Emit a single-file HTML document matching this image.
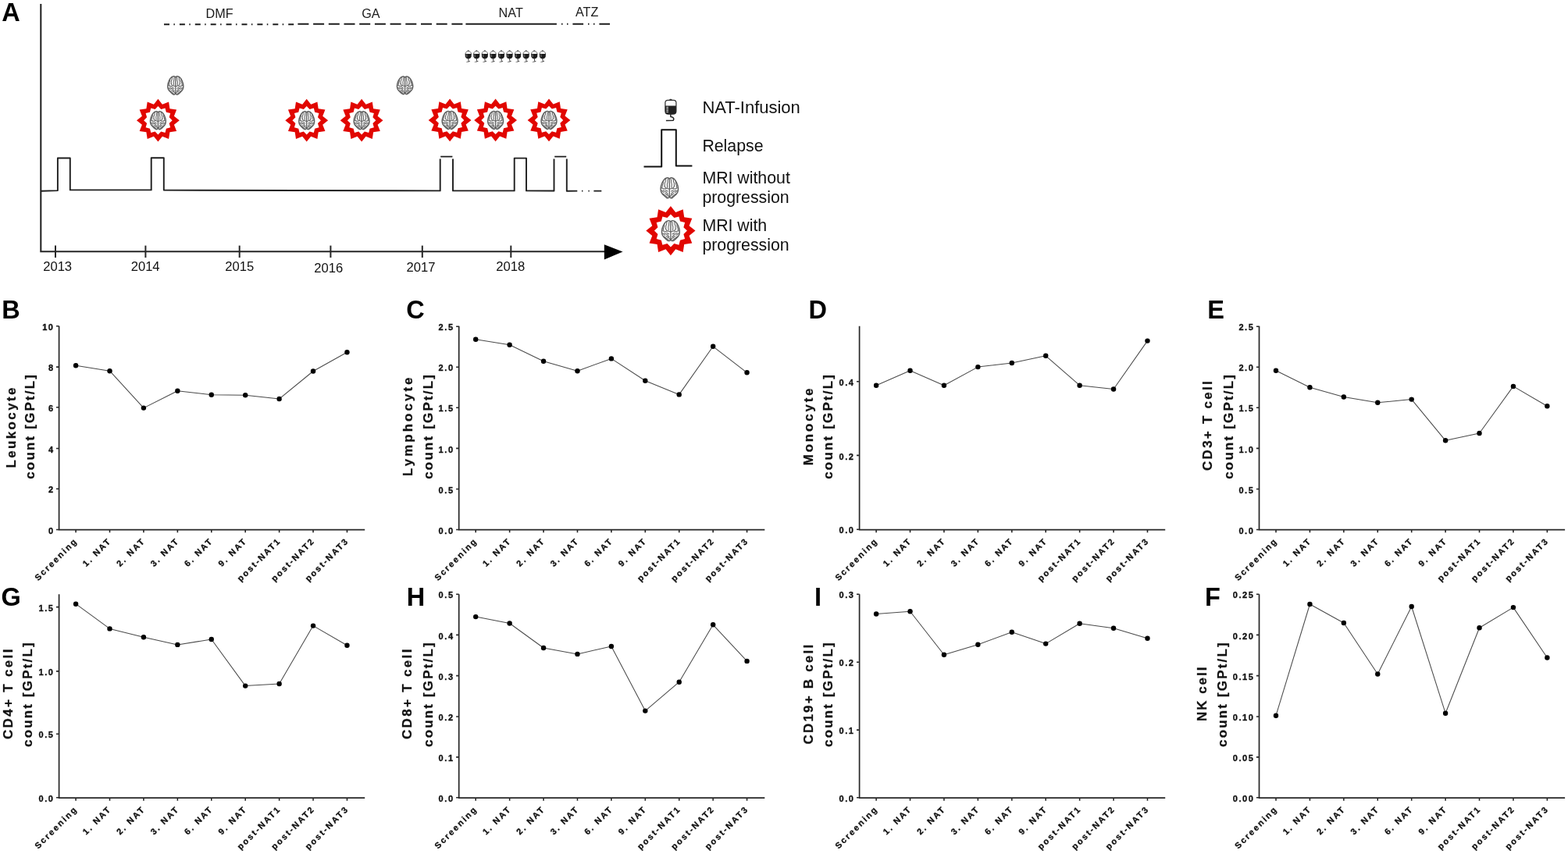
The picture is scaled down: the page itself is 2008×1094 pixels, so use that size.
<!DOCTYPE html><html><head><meta charset="utf-8"><title>Figure</title><style>html,body{margin:0;padding:0;background:#fff;overflow:hidden;}svg{display:block;}</style></head><body>
<svg width="2008" height="1094" viewBox="0 0 2008 1094">
<rect width="2008" height="1094" fill="#fff"/>
<g font-family='"Liberation Sans", Arial, sans-serif'>
<text x="2.2" y="27.2" font-size="32.5" font-weight="bold" fill="#000">A</text>
<path d="M52.3,5 L52.3,322.3 L776,322.3" fill="none" stroke="#262626" stroke-width="2.1"/>
<polygon points="773.8,313.2 797.5,322.6 773.8,332.4" fill="#000"/>
<line x1="71" y1="314.6" x2="71" y2="330" stroke="#262626" stroke-width="2"/>
<line x1="186.4" y1="314.6" x2="186.4" y2="330" stroke="#262626" stroke-width="2"/>
<line x1="306.7" y1="314.6" x2="306.7" y2="330" stroke="#262626" stroke-width="2"/>
<line x1="423.4" y1="314.6" x2="423.4" y2="330" stroke="#262626" stroke-width="2"/>
<line x1="540.8" y1="314.6" x2="540.8" y2="330" stroke="#262626" stroke-width="2"/>
<line x1="654.3" y1="314.6" x2="654.3" y2="330" stroke="#262626" stroke-width="2"/>
<text x="73.65" y="347.3" font-size="16.6" text-anchor="middle" fill="#111">2013</text>
<text x="186.15" y="346.9" font-size="16.6" text-anchor="middle" fill="#111">2014</text>
<text x="306.75" y="347.3" font-size="16.6" text-anchor="middle" fill="#111">2015</text>
<text x="420.75" y="348.7" font-size="16.6" text-anchor="middle" fill="#111">2016</text>
<text x="539" y="347.5" font-size="16.6" text-anchor="middle" fill="#111">2017</text>
<text x="653.7" y="347.3" font-size="16.6" text-anchor="middle" fill="#111">2018</text>
<path d="M52.3,244.8 L73.9,244.1 L73.9,202.5 L89.8,202.5 L89.8,243.4 L193.7,243.4 L193.7,202.2 L209.8,202.2 L209.8,243.6 L563.7,244.4 L563.7,203.6 M580,203.6 L580,244.4 L658.7,244.4 L658.7,202.6 L674,202.6 L674,244.4 L709.5,244.5 L709.5,203.6 M725.8,203.6 L725.8,244.8 L739.3,244.6" fill="none" stroke="#1e1e1e" stroke-width="1.9" stroke-linejoin="round"/>
<path d="M564.2,200.6 L579.4,200.6 M710.2,200.6 L725.2,200.6" stroke="#1e1e1e" stroke-width="1.9"/>
<path d="M745,244.6 h1.4 M753.4,244.6 h1.4 M760.4,244.6 L770.3,244.6" stroke="#1e1e1e" stroke-width="1.9"/>
<line x1="210" y1="31.2" x2="376.5" y2="31.2" stroke="#1e1e1e" stroke-width="2" stroke-dasharray="7 5.4 1.5 6"/>
<line x1="381.4" y1="30.8" x2="593" y2="30.8" stroke="#1e1e1e" stroke-width="2" stroke-dasharray="14 5.7"/>
<line x1="596.4" y1="30.8" x2="712.9" y2="30.8" stroke="#1e1e1e" stroke-width="2"/>
<path d="M719,30.8 h1.5 M726,30.8 h1.5 M733.4,30.8 L747.1,30.8 M753,30.8 h1.5 M760,30.8 h1.5 M767.4,30.8 L781,30.8" stroke="#1e1e1e" stroke-width="2"/>
<text x="263.6" y="22.9" font-size="16.2" fill="#1a1a1a">DMF</text>
<text x="463.2" y="22.9" font-size="16.2" fill="#1a1a1a">GA</text>
<text x="638.6" y="21.9" font-size="16.2" fill="#1a1a1a">NAT</text>
<text x="737" y="21" font-size="16.2" fill="#1a1a1a">ATZ</text>
<path d="M598.7,64.6 L599.7,64.1 L600.7,64.6 L600.7,65.9 L598.7,65.9 Z" fill="#777"/><path d="M596,69.2 C596,66.7 597.6,65.7 599.7,65.7 C601.8,65.7 603.4,66.7 603.4,69.2" fill="#fff" stroke="#5a5a5a" stroke-width="0.95"/><path d="M595.6,68.9 L603.8,68.9 L603.6,72.3 C603.3,74.4 601.9,75.3 599.7,75.3 C597.5,75.3 596.1,74.4 595.8,72.3 Z" fill="#1c1c1c"/><path d="M596.8,70.6 h1.6 M596.8,72.3 h1.6" stroke="#bbb" stroke-width="0.7"/><path d="M599.7,75 L600,77.8" stroke="#333" stroke-width="1"/><path d="M596.9,79.5 C598.7,78.6 600.7,77.7 601.8,78.1 C602.3,78.6 601.2,79.7 596.9,79.7 Z" fill="#3a3a3a"/>
<path d="M609.27,64.6 L610.27,64.1 L611.27,64.6 L611.27,65.9 L609.27,65.9 Z" fill="#777"/><path d="M606.57,69.2 C606.57,66.7 608.17,65.7 610.27,65.7 C612.37,65.7 613.97,66.7 613.97,69.2" fill="#fff" stroke="#5a5a5a" stroke-width="0.95"/><path d="M606.17,68.9 L614.37,68.9 L614.17,72.3 C613.87,74.4 612.47,75.3 610.27,75.3 C608.07,75.3 606.67,74.4 606.37,72.3 Z" fill="#1c1c1c"/><path d="M607.37,70.6 h1.6 M607.37,72.3 h1.6" stroke="#bbb" stroke-width="0.7"/><path d="M610.27,75 L610.57,77.8" stroke="#333" stroke-width="1"/><path d="M607.47,79.5 C609.27,78.6 611.27,77.7 612.37,78.1 C612.87,78.6 611.77,79.7 607.47,79.7 Z" fill="#3a3a3a"/>
<path d="M619.84,64.6 L620.84,64.1 L621.84,64.6 L621.84,65.9 L619.84,65.9 Z" fill="#777"/><path d="M617.14,69.2 C617.14,66.7 618.74,65.7 620.84,65.7 C622.94,65.7 624.54,66.7 624.54,69.2" fill="#fff" stroke="#5a5a5a" stroke-width="0.95"/><path d="M616.74,68.9 L624.94,68.9 L624.74,72.3 C624.44,74.4 623.04,75.3 620.84,75.3 C618.64,75.3 617.24,74.4 616.94,72.3 Z" fill="#1c1c1c"/><path d="M617.94,70.6 h1.6 M617.94,72.3 h1.6" stroke="#bbb" stroke-width="0.7"/><path d="M620.84,75 L621.14,77.8" stroke="#333" stroke-width="1"/><path d="M618.04,79.5 C619.84,78.6 621.84,77.7 622.94,78.1 C623.44,78.6 622.34,79.7 618.04,79.7 Z" fill="#3a3a3a"/>
<path d="M630.41,64.6 L631.41,64.1 L632.41,64.6 L632.41,65.9 L630.41,65.9 Z" fill="#777"/><path d="M627.71,69.2 C627.71,66.7 629.31,65.7 631.41,65.7 C633.51,65.7 635.11,66.7 635.11,69.2" fill="#fff" stroke="#5a5a5a" stroke-width="0.95"/><path d="M627.31,68.9 L635.51,68.9 L635.31,72.3 C635.01,74.4 633.61,75.3 631.41,75.3 C629.21,75.3 627.81,74.4 627.51,72.3 Z" fill="#1c1c1c"/><path d="M628.51,70.6 h1.6 M628.51,72.3 h1.6" stroke="#bbb" stroke-width="0.7"/><path d="M631.41,75 L631.71,77.8" stroke="#333" stroke-width="1"/><path d="M628.61,79.5 C630.41,78.6 632.41,77.7 633.51,78.1 C634.01,78.6 632.91,79.7 628.61,79.7 Z" fill="#3a3a3a"/>
<path d="M640.98,64.6 L641.98,64.1 L642.98,64.6 L642.98,65.9 L640.98,65.9 Z" fill="#777"/><path d="M638.28,69.2 C638.28,66.7 639.88,65.7 641.98,65.7 C644.08,65.7 645.68,66.7 645.68,69.2" fill="#fff" stroke="#5a5a5a" stroke-width="0.95"/><path d="M637.88,68.9 L646.08,68.9 L645.88,72.3 C645.58,74.4 644.18,75.3 641.98,75.3 C639.78,75.3 638.38,74.4 638.08,72.3 Z" fill="#1c1c1c"/><path d="M639.08,70.6 h1.6 M639.08,72.3 h1.6" stroke="#bbb" stroke-width="0.7"/><path d="M641.98,75 L642.28,77.8" stroke="#333" stroke-width="1"/><path d="M639.18,79.5 C640.98,78.6 642.98,77.7 644.08,78.1 C644.58,78.6 643.48,79.7 639.18,79.7 Z" fill="#3a3a3a"/>
<path d="M651.55,64.6 L652.55,64.1 L653.55,64.6 L653.55,65.9 L651.55,65.9 Z" fill="#777"/><path d="M648.85,69.2 C648.85,66.7 650.45,65.7 652.55,65.7 C654.65,65.7 656.25,66.7 656.25,69.2" fill="#fff" stroke="#5a5a5a" stroke-width="0.95"/><path d="M648.45,68.9 L656.65,68.9 L656.45,72.3 C656.15,74.4 654.75,75.3 652.55,75.3 C650.35,75.3 648.95,74.4 648.65,72.3 Z" fill="#1c1c1c"/><path d="M649.65,70.6 h1.6 M649.65,72.3 h1.6" stroke="#bbb" stroke-width="0.7"/><path d="M652.55,75 L652.85,77.8" stroke="#333" stroke-width="1"/><path d="M649.75,79.5 C651.55,78.6 653.55,77.7 654.65,78.1 C655.15,78.6 654.05,79.7 649.75,79.7 Z" fill="#3a3a3a"/>
<path d="M662.12,64.6 L663.12,64.1 L664.12,64.6 L664.12,65.9 L662.12,65.9 Z" fill="#777"/><path d="M659.42,69.2 C659.42,66.7 661.02,65.7 663.12,65.7 C665.22,65.7 666.82,66.7 666.82,69.2" fill="#fff" stroke="#5a5a5a" stroke-width="0.95"/><path d="M659.02,68.9 L667.22,68.9 L667.02,72.3 C666.72,74.4 665.32,75.3 663.12,75.3 C660.92,75.3 659.52,74.4 659.22,72.3 Z" fill="#1c1c1c"/><path d="M660.22,70.6 h1.6 M660.22,72.3 h1.6" stroke="#bbb" stroke-width="0.7"/><path d="M663.12,75 L663.42,77.8" stroke="#333" stroke-width="1"/><path d="M660.32,79.5 C662.12,78.6 664.12,77.7 665.22,78.1 C665.72,78.6 664.62,79.7 660.32,79.7 Z" fill="#3a3a3a"/>
<path d="M672.69,64.6 L673.69,64.1 L674.69,64.6 L674.69,65.9 L672.69,65.9 Z" fill="#777"/><path d="M669.99,69.2 C669.99,66.7 671.59,65.7 673.69,65.7 C675.79,65.7 677.39,66.7 677.39,69.2" fill="#fff" stroke="#5a5a5a" stroke-width="0.95"/><path d="M669.59,68.9 L677.79,68.9 L677.59,72.3 C677.29,74.4 675.89,75.3 673.69,75.3 C671.49,75.3 670.09,74.4 669.79,72.3 Z" fill="#1c1c1c"/><path d="M670.79,70.6 h1.6 M670.79,72.3 h1.6" stroke="#bbb" stroke-width="0.7"/><path d="M673.69,75 L673.99,77.8" stroke="#333" stroke-width="1"/><path d="M670.89,79.5 C672.69,78.6 674.69,77.7 675.79,78.1 C676.29,78.6 675.19,79.7 670.89,79.7 Z" fill="#3a3a3a"/>
<path d="M683.26,64.6 L684.26,64.1 L685.26,64.6 L685.26,65.9 L683.26,65.9 Z" fill="#777"/><path d="M680.56,69.2 C680.56,66.7 682.16,65.7 684.26,65.7 C686.36,65.7 687.96,66.7 687.96,69.2" fill="#fff" stroke="#5a5a5a" stroke-width="0.95"/><path d="M680.16,68.9 L688.36,68.9 L688.16,72.3 C687.86,74.4 686.46,75.3 684.26,75.3 C682.06,75.3 680.66,74.4 680.36,72.3 Z" fill="#1c1c1c"/><path d="M681.36,70.6 h1.6 M681.36,72.3 h1.6" stroke="#bbb" stroke-width="0.7"/><path d="M684.26,75 L684.56,77.8" stroke="#333" stroke-width="1"/><path d="M681.46,79.5 C683.26,78.6 685.26,77.7 686.36,78.1 C686.86,78.6 685.76,79.7 681.46,79.7 Z" fill="#3a3a3a"/>
<path d="M693.83,64.6 L694.83,64.1 L695.83,64.6 L695.83,65.9 L693.83,65.9 Z" fill="#777"/><path d="M691.13,69.2 C691.13,66.7 692.73,65.7 694.83,65.7 C696.93,65.7 698.53,66.7 698.53,69.2" fill="#fff" stroke="#5a5a5a" stroke-width="0.95"/><path d="M690.73,68.9 L698.93,68.9 L698.73,72.3 C698.43,74.4 697.03,75.3 694.83,75.3 C692.63,75.3 691.23,74.4 690.93,72.3 Z" fill="#1c1c1c"/><path d="M691.93,70.6 h1.6 M691.93,72.3 h1.6" stroke="#bbb" stroke-width="0.7"/><path d="M694.83,75 L695.13,77.8" stroke="#333" stroke-width="1"/><path d="M692.03,79.5 C693.83,78.6 695.83,77.7 696.93,78.1 C697.43,78.6 696.33,79.7 692.03,79.7 Z" fill="#3a3a3a"/>
<g transform="translate(224.8,109.4) scale(0.2020,0.2061) translate(-50,-57.5)" fill="none" stroke="#5e5e5e" stroke-linejoin="round" stroke-linecap="round"><path d="M49,6 C45,1 41,0.3 37,0.8 C29,2 21,8 16,15 C10,24 5,35 2.5,45 C0.5,54 -0.3,60 0.2,66 C0.8,73 2,78 4,82 C7,88 11,93 16,97 C22,103 27,108 33,112 C37,114.5 42,115 45,113 C47.5,111.5 49,108 50,103 M51,6 C55,1 59,0.3 63,0.8 C71,2 79,8 84,15 C90,24 95,35 97.5,45 C99.5,54 100.3,60 99.8,66 C99.2,73 98,78 96,82 C93,88 89,93 84,97 C78,103 73,108 67,112 C63,114.5 58,115 55,113 C52.5,111.5 51,108 50,103" fill="#fafafa" stroke-width="7.11"/><path d="M50,6 L50,103" stroke-width="6.37"/><path d="M42,8 C37,16 43,24 38,32 C34,40 41,48 37,56 M30,6 C24,12 31,19 25,26 C19,33 27,40 21,47 M16,18 C11,26 18,32 11,40 C7,46 12,52 6,58 M9,60 C15,58 18,64 24,63 C29,62 31,58 37,59 M22,45 C26,50 24,55 30,58 M40,62 C45,60 47,64 49,62 M5,72 C10,74 12,80 18,82 M14,70 C20,72 24,78 30,80 C35,82 36,88 41,92 M28,70 C33,71 36,75 40,76 M12,90 C18,92 22,98 28,101 C32,103 34,107 38,110 M25,88 C30,90 33,95 38,97 C42,99 44,103 47,106 M58,8 C63,16 57,24 62,32 C66,40 59,48 63,56 M70,6 C76,12 69,19 75,26 C81,33 73,40 79,47 M84,18 C89,26 82,32 89,40 C93,46 88,52 94,58 M91,60 C85,58 82,64 76,63 C71,62 69,58 63,59 M78,45 C74,50 76,55 70,58 M60,62 C55,60 53,64 51,62 M95,72 C90,74 88,80 82,82 M86,70 C80,72 76,78 70,80 C65,82 64,88 59,92 M72,70 C67,71 64,75 60,76 M88,90 C82,92 78,98 72,101 C68,103 66,107 62,110 M75,88 C70,90 67,95 62,97 C58,99 56,103 53,106" stroke="#616161" stroke-width="5.15"/></g>
<g transform="translate(518.6,109.3) scale(0.2030,0.2000) translate(-50,-57.5)" fill="none" stroke="#5e5e5e" stroke-linejoin="round" stroke-linecap="round"><path d="M49,6 C45,1 41,0.3 37,0.8 C29,2 21,8 16,15 C10,24 5,35 2.5,45 C0.5,54 -0.3,60 0.2,66 C0.8,73 2,78 4,82 C7,88 11,93 16,97 C22,103 27,108 33,112 C37,114.5 42,115 45,113 C47.5,111.5 49,108 50,103 M51,6 C55,1 59,0.3 63,0.8 C71,2 79,8 84,15 C90,24 95,35 97.5,45 C99.5,54 100.3,60 99.8,66 C99.2,73 98,78 96,82 C93,88 89,93 84,97 C78,103 73,108 67,112 C63,114.5 58,115 55,113 C52.5,111.5 51,108 50,103" fill="#fafafa" stroke-width="7.2"/><path d="M50,6 L50,103" stroke-width="6.45"/><path d="M42,8 C37,16 43,24 38,32 C34,40 41,48 37,56 M30,6 C24,12 31,19 25,26 C19,33 27,40 21,47 M16,18 C11,26 18,32 11,40 C7,46 12,52 6,58 M9,60 C15,58 18,64 24,63 C29,62 31,58 37,59 M22,45 C26,50 24,55 30,58 M40,62 C45,60 47,64 49,62 M5,72 C10,74 12,80 18,82 M14,70 C20,72 24,78 30,80 C35,82 36,88 41,92 M28,70 C33,71 36,75 40,76 M12,90 C18,92 22,98 28,101 C32,103 34,107 38,110 M25,88 C30,90 33,95 38,97 C42,99 44,103 47,106 M58,8 C63,16 57,24 62,32 C66,40 59,48 63,56 M70,6 C76,12 69,19 75,26 C81,33 73,40 79,47 M84,18 C89,26 82,32 89,40 C93,46 88,52 94,58 M91,60 C85,58 82,64 76,63 C71,62 69,58 63,59 M78,45 C74,50 76,55 70,58 M60,62 C55,60 53,64 51,62 M95,72 C90,74 88,80 82,82 M86,70 C80,72 76,78 70,80 C65,82 64,88 59,92 M72,70 C67,71 64,75 60,76 M88,90 C82,92 78,98 72,101 C68,103 66,107 62,110 M75,88 C70,90 67,95 62,97 C58,99 56,103 53,106" stroke="#616161" stroke-width="5.21"/></g>
<polygon points="202.4,126.8 207.9,133.69 216.1,130.47 217.42,139.18 226.13,140.5 222.91,148.7 229.8,154.2 222.91,159.7 226.13,167.9 217.42,169.22 216.1,177.93 207.9,174.71 202.4,181.6 196.9,174.71 188.7,177.93 187.38,169.22 178.67,167.9 181.89,159.7 175,154.2 181.89,148.7 178.67,140.5 187.38,139.18 188.7,130.47 196.9,133.69" fill="#e10600"/><polygon points="202.4,135.98 206.23,139.91 211.51,138.42 212.86,143.74 218.18,145.09 216.69,150.37 220.62,154.2 216.69,158.03 218.18,163.31 212.86,164.66 211.51,169.98 206.23,168.49 202.4,172.42 198.57,168.49 193.29,169.98 191.94,164.66 186.62,163.31 188.11,158.03 184.18,154.2 188.11,150.37 186.62,145.09 191.94,143.74 193.29,138.42 198.57,139.91" fill="#fff"/><g transform="translate(202.4,154.2) scale(0.1990,0.2026) translate(-50,-57.5)" fill="none" stroke="#5e5e5e" stroke-linejoin="round" stroke-linecap="round"><path d="M49,6 C45,1 41,0.3 37,0.8 C29,2 21,8 16,15 C10,24 5,35 2.5,45 C0.5,54 -0.3,60 0.2,66 C0.8,73 2,78 4,82 C7,88 11,93 16,97 C22,103 27,108 33,112 C37,114.5 42,115 45,113 C47.5,111.5 49,108 50,103 M51,6 C55,1 59,0.3 63,0.8 C71,2 79,8 84,15 C90,24 95,35 97.5,45 C99.5,54 100.3,60 99.8,66 C99.2,73 98,78 96,82 C93,88 89,93 84,97 C78,103 73,108 67,112 C63,114.5 58,115 55,113 C52.5,111.5 51,108 50,103" fill="#fafafa" stroke-width="7.22"/><path d="M50,6 L50,103" stroke-width="6.47"/><path d="M42,8 C37,16 43,24 38,32 C34,40 41,48 37,56 M30,6 C24,12 31,19 25,26 C19,33 27,40 21,47 M16,18 C11,26 18,32 11,40 C7,46 12,52 6,58 M9,60 C15,58 18,64 24,63 C29,62 31,58 37,59 M22,45 C26,50 24,55 30,58 M40,62 C45,60 47,64 49,62 M5,72 C10,74 12,80 18,82 M14,70 C20,72 24,78 30,80 C35,82 36,88 41,92 M28,70 C33,71 36,75 40,76 M12,90 C18,92 22,98 28,101 C32,103 34,107 38,110 M25,88 C30,90 33,95 38,97 C42,99 44,103 47,106 M58,8 C63,16 57,24 62,32 C66,40 59,48 63,56 M70,6 C76,12 69,19 75,26 C81,33 73,40 79,47 M84,18 C89,26 82,32 89,40 C93,46 88,52 94,58 M91,60 C85,58 82,64 76,63 C71,62 69,58 63,59 M78,45 C74,50 76,55 70,58 M60,62 C55,60 53,64 51,62 M95,72 C90,74 88,80 82,82 M86,70 C80,72 76,78 70,80 C65,82 64,88 59,92 M72,70 C67,71 64,75 60,76 M88,90 C82,92 78,98 72,101 C68,103 66,107 62,110 M75,88 C70,90 67,95 62,97 C58,99 56,103 53,106" stroke="#616161" stroke-width="5.23"/></g>
<polygon points="392.7,126.8 398.2,133.69 406.4,130.47 407.72,139.18 416.43,140.5 413.21,148.7 420.1,154.2 413.21,159.7 416.43,167.9 407.72,169.22 406.4,177.93 398.2,174.71 392.7,181.6 387.2,174.71 379,177.93 377.68,169.22 368.97,167.9 372.19,159.7 365.3,154.2 372.19,148.7 368.97,140.5 377.68,139.18 379,130.47 387.2,133.69" fill="#e10600"/><polygon points="392.7,135.98 396.53,139.91 401.81,138.42 403.16,143.74 408.48,145.09 406.99,150.37 410.92,154.2 406.99,158.03 408.48,163.31 403.16,164.66 401.81,169.98 396.53,168.49 392.7,172.42 388.87,168.49 383.59,169.98 382.24,164.66 376.92,163.31 378.41,158.03 374.48,154.2 378.41,150.37 376.92,145.09 382.24,143.74 383.59,138.42 388.87,139.91" fill="#fff"/><g transform="translate(392.7,154.2) scale(0.1990,0.2026) translate(-50,-57.5)" fill="none" stroke="#5e5e5e" stroke-linejoin="round" stroke-linecap="round"><path d="M49,6 C45,1 41,0.3 37,0.8 C29,2 21,8 16,15 C10,24 5,35 2.5,45 C0.5,54 -0.3,60 0.2,66 C0.8,73 2,78 4,82 C7,88 11,93 16,97 C22,103 27,108 33,112 C37,114.5 42,115 45,113 C47.5,111.5 49,108 50,103 M51,6 C55,1 59,0.3 63,0.8 C71,2 79,8 84,15 C90,24 95,35 97.5,45 C99.5,54 100.3,60 99.8,66 C99.2,73 98,78 96,82 C93,88 89,93 84,97 C78,103 73,108 67,112 C63,114.5 58,115 55,113 C52.5,111.5 51,108 50,103" fill="#fafafa" stroke-width="7.22"/><path d="M50,6 L50,103" stroke-width="6.47"/><path d="M42,8 C37,16 43,24 38,32 C34,40 41,48 37,56 M30,6 C24,12 31,19 25,26 C19,33 27,40 21,47 M16,18 C11,26 18,32 11,40 C7,46 12,52 6,58 M9,60 C15,58 18,64 24,63 C29,62 31,58 37,59 M22,45 C26,50 24,55 30,58 M40,62 C45,60 47,64 49,62 M5,72 C10,74 12,80 18,82 M14,70 C20,72 24,78 30,80 C35,82 36,88 41,92 M28,70 C33,71 36,75 40,76 M12,90 C18,92 22,98 28,101 C32,103 34,107 38,110 M25,88 C30,90 33,95 38,97 C42,99 44,103 47,106 M58,8 C63,16 57,24 62,32 C66,40 59,48 63,56 M70,6 C76,12 69,19 75,26 C81,33 73,40 79,47 M84,18 C89,26 82,32 89,40 C93,46 88,52 94,58 M91,60 C85,58 82,64 76,63 C71,62 69,58 63,59 M78,45 C74,50 76,55 70,58 M60,62 C55,60 53,64 51,62 M95,72 C90,74 88,80 82,82 M86,70 C80,72 76,78 70,80 C65,82 64,88 59,92 M72,70 C67,71 64,75 60,76 M88,90 C82,92 78,98 72,101 C68,103 66,107 62,110 M75,88 C70,90 67,95 62,97 C58,99 56,103 53,106" stroke="#616161" stroke-width="5.23"/></g>
<polygon points="463.1,126.8 468.6,133.69 476.8,130.47 478.12,139.18 486.83,140.5 483.61,148.7 490.5,154.2 483.61,159.7 486.83,167.9 478.12,169.22 476.8,177.93 468.6,174.71 463.1,181.6 457.6,174.71 449.4,177.93 448.08,169.22 439.37,167.9 442.59,159.7 435.7,154.2 442.59,148.7 439.37,140.5 448.08,139.18 449.4,130.47 457.6,133.69" fill="#e10600"/><polygon points="463.1,135.98 466.93,139.91 472.21,138.42 473.56,143.74 478.88,145.09 477.39,150.37 481.32,154.2 477.39,158.03 478.88,163.31 473.56,164.66 472.21,169.98 466.93,168.49 463.1,172.42 459.27,168.49 453.99,169.98 452.64,164.66 447.32,163.31 448.81,158.03 444.88,154.2 448.81,150.37 447.32,145.09 452.64,143.74 453.99,138.42 459.27,139.91" fill="#fff"/><g transform="translate(463.1,154.2) scale(0.1990,0.2026) translate(-50,-57.5)" fill="none" stroke="#5e5e5e" stroke-linejoin="round" stroke-linecap="round"><path d="M49,6 C45,1 41,0.3 37,0.8 C29,2 21,8 16,15 C10,24 5,35 2.5,45 C0.5,54 -0.3,60 0.2,66 C0.8,73 2,78 4,82 C7,88 11,93 16,97 C22,103 27,108 33,112 C37,114.5 42,115 45,113 C47.5,111.5 49,108 50,103 M51,6 C55,1 59,0.3 63,0.8 C71,2 79,8 84,15 C90,24 95,35 97.5,45 C99.5,54 100.3,60 99.8,66 C99.2,73 98,78 96,82 C93,88 89,93 84,97 C78,103 73,108 67,112 C63,114.5 58,115 55,113 C52.5,111.5 51,108 50,103" fill="#fafafa" stroke-width="7.22"/><path d="M50,6 L50,103" stroke-width="6.47"/><path d="M42,8 C37,16 43,24 38,32 C34,40 41,48 37,56 M30,6 C24,12 31,19 25,26 C19,33 27,40 21,47 M16,18 C11,26 18,32 11,40 C7,46 12,52 6,58 M9,60 C15,58 18,64 24,63 C29,62 31,58 37,59 M22,45 C26,50 24,55 30,58 M40,62 C45,60 47,64 49,62 M5,72 C10,74 12,80 18,82 M14,70 C20,72 24,78 30,80 C35,82 36,88 41,92 M28,70 C33,71 36,75 40,76 M12,90 C18,92 22,98 28,101 C32,103 34,107 38,110 M25,88 C30,90 33,95 38,97 C42,99 44,103 47,106 M58,8 C63,16 57,24 62,32 C66,40 59,48 63,56 M70,6 C76,12 69,19 75,26 C81,33 73,40 79,47 M84,18 C89,26 82,32 89,40 C93,46 88,52 94,58 M91,60 C85,58 82,64 76,63 C71,62 69,58 63,59 M78,45 C74,50 76,55 70,58 M60,62 C55,60 53,64 51,62 M95,72 C90,74 88,80 82,82 M86,70 C80,72 76,78 70,80 C65,82 64,88 59,92 M72,70 C67,71 64,75 60,76 M88,90 C82,92 78,98 72,101 C68,103 66,107 62,110 M75,88 C70,90 67,95 62,97 C58,99 56,103 53,106" stroke="#616161" stroke-width="5.23"/></g>
<polygon points="576.1,126.5 581.6,133.39 589.8,130.17 591.12,138.88 599.83,140.2 596.61,148.4 603.5,153.9 596.61,159.4 599.83,167.6 591.12,168.92 589.8,177.63 581.6,174.41 576.1,181.3 570.6,174.41 562.4,177.63 561.08,168.92 552.37,167.6 555.59,159.4 548.7,153.9 555.59,148.4 552.37,140.2 561.08,138.88 562.4,130.17 570.6,133.39" fill="#e10600"/><polygon points="576.1,135.68 579.93,139.61 585.21,138.12 586.56,143.44 591.88,144.79 590.39,150.07 594.32,153.9 590.39,157.73 591.88,163.01 586.56,164.36 585.21,169.68 579.93,168.19 576.1,172.12 572.27,168.19 566.99,169.68 565.64,164.36 560.32,163.01 561.81,157.73 557.88,153.9 561.81,150.07 560.32,144.79 565.64,143.44 566.99,138.12 572.27,139.61" fill="#fff"/><g transform="translate(576.1,153.9) scale(0.1990,0.2026) translate(-50,-57.5)" fill="none" stroke="#5e5e5e" stroke-linejoin="round" stroke-linecap="round"><path d="M49,6 C45,1 41,0.3 37,0.8 C29,2 21,8 16,15 C10,24 5,35 2.5,45 C0.5,54 -0.3,60 0.2,66 C0.8,73 2,78 4,82 C7,88 11,93 16,97 C22,103 27,108 33,112 C37,114.5 42,115 45,113 C47.5,111.5 49,108 50,103 M51,6 C55,1 59,0.3 63,0.8 C71,2 79,8 84,15 C90,24 95,35 97.5,45 C99.5,54 100.3,60 99.8,66 C99.2,73 98,78 96,82 C93,88 89,93 84,97 C78,103 73,108 67,112 C63,114.5 58,115 55,113 C52.5,111.5 51,108 50,103" fill="#fafafa" stroke-width="7.22"/><path d="M50,6 L50,103" stroke-width="6.47"/><path d="M42,8 C37,16 43,24 38,32 C34,40 41,48 37,56 M30,6 C24,12 31,19 25,26 C19,33 27,40 21,47 M16,18 C11,26 18,32 11,40 C7,46 12,52 6,58 M9,60 C15,58 18,64 24,63 C29,62 31,58 37,59 M22,45 C26,50 24,55 30,58 M40,62 C45,60 47,64 49,62 M5,72 C10,74 12,80 18,82 M14,70 C20,72 24,78 30,80 C35,82 36,88 41,92 M28,70 C33,71 36,75 40,76 M12,90 C18,92 22,98 28,101 C32,103 34,107 38,110 M25,88 C30,90 33,95 38,97 C42,99 44,103 47,106 M58,8 C63,16 57,24 62,32 C66,40 59,48 63,56 M70,6 C76,12 69,19 75,26 C81,33 73,40 79,47 M84,18 C89,26 82,32 89,40 C93,46 88,52 94,58 M91,60 C85,58 82,64 76,63 C71,62 69,58 63,59 M78,45 C74,50 76,55 70,58 M60,62 C55,60 53,64 51,62 M95,72 C90,74 88,80 82,82 M86,70 C80,72 76,78 70,80 C65,82 64,88 59,92 M72,70 C67,71 64,75 60,76 M88,90 C82,92 78,98 72,101 C68,103 66,107 62,110 M75,88 C70,90 67,95 62,97 C58,99 56,103 53,106" stroke="#616161" stroke-width="5.23"/></g>
<polygon points="634.6,126.5 640.1,133.39 648.3,130.17 649.62,138.88 658.33,140.2 655.11,148.4 662,153.9 655.11,159.4 658.33,167.6 649.62,168.92 648.3,177.63 640.1,174.41 634.6,181.3 629.1,174.41 620.9,177.63 619.58,168.92 610.87,167.6 614.09,159.4 607.2,153.9 614.09,148.4 610.87,140.2 619.58,138.88 620.9,130.17 629.1,133.39" fill="#e10600"/><polygon points="634.6,135.68 638.43,139.61 643.71,138.12 645.06,143.44 650.38,144.79 648.89,150.07 652.82,153.9 648.89,157.73 650.38,163.01 645.06,164.36 643.71,169.68 638.43,168.19 634.6,172.12 630.77,168.19 625.49,169.68 624.14,164.36 618.82,163.01 620.31,157.73 616.38,153.9 620.31,150.07 618.82,144.79 624.14,143.44 625.49,138.12 630.77,139.61" fill="#fff"/><g transform="translate(634.6,153.9) scale(0.1990,0.2026) translate(-50,-57.5)" fill="none" stroke="#5e5e5e" stroke-linejoin="round" stroke-linecap="round"><path d="M49,6 C45,1 41,0.3 37,0.8 C29,2 21,8 16,15 C10,24 5,35 2.5,45 C0.5,54 -0.3,60 0.2,66 C0.8,73 2,78 4,82 C7,88 11,93 16,97 C22,103 27,108 33,112 C37,114.5 42,115 45,113 C47.5,111.5 49,108 50,103 M51,6 C55,1 59,0.3 63,0.8 C71,2 79,8 84,15 C90,24 95,35 97.5,45 C99.5,54 100.3,60 99.8,66 C99.2,73 98,78 96,82 C93,88 89,93 84,97 C78,103 73,108 67,112 C63,114.5 58,115 55,113 C52.5,111.5 51,108 50,103" fill="#fafafa" stroke-width="7.22"/><path d="M50,6 L50,103" stroke-width="6.47"/><path d="M42,8 C37,16 43,24 38,32 C34,40 41,48 37,56 M30,6 C24,12 31,19 25,26 C19,33 27,40 21,47 M16,18 C11,26 18,32 11,40 C7,46 12,52 6,58 M9,60 C15,58 18,64 24,63 C29,62 31,58 37,59 M22,45 C26,50 24,55 30,58 M40,62 C45,60 47,64 49,62 M5,72 C10,74 12,80 18,82 M14,70 C20,72 24,78 30,80 C35,82 36,88 41,92 M28,70 C33,71 36,75 40,76 M12,90 C18,92 22,98 28,101 C32,103 34,107 38,110 M25,88 C30,90 33,95 38,97 C42,99 44,103 47,106 M58,8 C63,16 57,24 62,32 C66,40 59,48 63,56 M70,6 C76,12 69,19 75,26 C81,33 73,40 79,47 M84,18 C89,26 82,32 89,40 C93,46 88,52 94,58 M91,60 C85,58 82,64 76,63 C71,62 69,58 63,59 M78,45 C74,50 76,55 70,58 M60,62 C55,60 53,64 51,62 M95,72 C90,74 88,80 82,82 M86,70 C80,72 76,78 70,80 C65,82 64,88 59,92 M72,70 C67,71 64,75 60,76 M88,90 C82,92 78,98 72,101 C68,103 66,107 62,110 M75,88 C70,90 67,95 62,97 C58,99 56,103 53,106" stroke="#616161" stroke-width="5.23"/></g>
<polygon points="703,126.5 708.5,133.39 716.7,130.17 718.02,138.88 726.73,140.2 723.51,148.4 730.4,153.9 723.51,159.4 726.73,167.6 718.02,168.92 716.7,177.63 708.5,174.41 703,181.3 697.5,174.41 689.3,177.63 687.98,168.92 679.27,167.6 682.49,159.4 675.6,153.9 682.49,148.4 679.27,140.2 687.98,138.88 689.3,130.17 697.5,133.39" fill="#e10600"/><polygon points="703,135.68 706.83,139.61 712.11,138.12 713.46,143.44 718.78,144.79 717.29,150.07 721.22,153.9 717.29,157.73 718.78,163.01 713.46,164.36 712.11,169.68 706.83,168.19 703,172.12 699.17,168.19 693.89,169.68 692.54,164.36 687.22,163.01 688.71,157.73 684.78,153.9 688.71,150.07 687.22,144.79 692.54,143.44 693.89,138.12 699.17,139.61" fill="#fff"/><g transform="translate(703,153.9) scale(0.1990,0.2026) translate(-50,-57.5)" fill="none" stroke="#5e5e5e" stroke-linejoin="round" stroke-linecap="round"><path d="M49,6 C45,1 41,0.3 37,0.8 C29,2 21,8 16,15 C10,24 5,35 2.5,45 C0.5,54 -0.3,60 0.2,66 C0.8,73 2,78 4,82 C7,88 11,93 16,97 C22,103 27,108 33,112 C37,114.5 42,115 45,113 C47.5,111.5 49,108 50,103 M51,6 C55,1 59,0.3 63,0.8 C71,2 79,8 84,15 C90,24 95,35 97.5,45 C99.5,54 100.3,60 99.8,66 C99.2,73 98,78 96,82 C93,88 89,93 84,97 C78,103 73,108 67,112 C63,114.5 58,115 55,113 C52.5,111.5 51,108 50,103" fill="#fafafa" stroke-width="7.22"/><path d="M50,6 L50,103" stroke-width="6.47"/><path d="M42,8 C37,16 43,24 38,32 C34,40 41,48 37,56 M30,6 C24,12 31,19 25,26 C19,33 27,40 21,47 M16,18 C11,26 18,32 11,40 C7,46 12,52 6,58 M9,60 C15,58 18,64 24,63 C29,62 31,58 37,59 M22,45 C26,50 24,55 30,58 M40,62 C45,60 47,64 49,62 M5,72 C10,74 12,80 18,82 M14,70 C20,72 24,78 30,80 C35,82 36,88 41,92 M28,70 C33,71 36,75 40,76 M12,90 C18,92 22,98 28,101 C32,103 34,107 38,110 M25,88 C30,90 33,95 38,97 C42,99 44,103 47,106 M58,8 C63,16 57,24 62,32 C66,40 59,48 63,56 M70,6 C76,12 69,19 75,26 C81,33 73,40 79,47 M84,18 C89,26 82,32 89,40 C93,46 88,52 94,58 M91,60 C85,58 82,64 76,63 C71,62 69,58 63,59 M78,45 C74,50 76,55 70,58 M60,62 C55,60 53,64 51,62 M95,72 C90,74 88,80 82,82 M86,70 C80,72 76,78 70,80 C65,82 64,88 59,92 M72,70 C67,71 64,75 60,76 M88,90 C82,92 78,98 72,101 C68,103 66,107 62,110 M75,88 C70,90 67,95 62,97 C58,99 56,103 53,106" stroke="#616161" stroke-width="5.23"/></g>
<g transform="translate(858.9,126.8) scale(1.000)"><path d="M-2.2,2 C-1.7,-0.6 1.7,-0.6 2.2,2 Z" fill="#444"/><path d="M-7,4.8 Q-7,1.6 -3.8,1.6 L3.8,1.6 Q7,1.6 7,4.8 L7,15.5 Q7,19.4 3.2,19.4 L-3.2,19.4 Q-7,19.4 -7,15.5 Z" fill="#fff" stroke="#333" stroke-width="1.25"/><path d="M-7,8.6 L7,8.6 L7,15.5 Q7,19.4 3.2,19.4 L-3.2,19.4 Q-7,19.4 -7,15.5 Z" fill="#222"/><path d="M-5.6,10.6 h2.6 M-5.6,12.6 h2.6 M-5.6,14.6 h2.6 M-5.6,16.6 h2.6" stroke="#fff" stroke-width="0.9"/><path d="M0,19.4 L0,22.6 C3.5,23.2 5,25.3 3.2,27.4 L-6,27.8" fill="none" stroke="#222" stroke-width="1.5"/></g>
<path d="M824.5,213.4 L847.2,213.4 L847.2,166.3 L865.8,166.3 L865.8,212.6 L886.4,212.6" fill="none" stroke="#111" stroke-width="2" stroke-linejoin="round"/>
<g transform="translate(857.3,240.8) scale(0.2250,0.2287) translate(-50,-57.5)" fill="none" stroke="#5e5e5e" stroke-linejoin="round" stroke-linecap="round"><path d="M49,6 C45,1 41,0.3 37,0.8 C29,2 21,8 16,15 C10,24 5,35 2.5,45 C0.5,54 -0.3,60 0.2,66 C0.8,73 2,78 4,82 C7,88 11,93 16,97 C22,103 27,108 33,112 C37,114.5 42,115 45,113 C47.5,111.5 49,108 50,103 M51,6 C55,1 59,0.3 63,0.8 C71,2 79,8 84,15 C90,24 95,35 97.5,45 C99.5,54 100.3,60 99.8,66 C99.2,73 98,78 96,82 C93,88 89,93 84,97 C78,103 73,108 67,112 C63,114.5 58,115 55,113 C52.5,111.5 51,108 50,103" fill="#fafafa" stroke-width="6.39"/><path d="M50,6 L50,103" stroke-width="5.73"/><path d="M42,8 C37,16 43,24 38,32 C34,40 41,48 37,56 M30,6 C24,12 31,19 25,26 C19,33 27,40 21,47 M16,18 C11,26 18,32 11,40 C7,46 12,52 6,58 M9,60 C15,58 18,64 24,63 C29,62 31,58 37,59 M22,45 C26,50 24,55 30,58 M40,62 C45,60 47,64 49,62 M5,72 C10,74 12,80 18,82 M14,70 C20,72 24,78 30,80 C35,82 36,88 41,92 M28,70 C33,71 36,75 40,76 M12,90 C18,92 22,98 28,101 C32,103 34,107 38,110 M25,88 C30,90 33,95 38,97 C42,99 44,103 47,106 M58,8 C63,16 57,24 62,32 C66,40 59,48 63,56 M70,6 C76,12 69,19 75,26 C81,33 73,40 79,47 M84,18 C89,26 82,32 89,40 C93,46 88,52 94,58 M91,60 C85,58 82,64 76,63 C71,62 69,58 63,59 M78,45 C74,50 76,55 70,58 M60,62 C55,60 53,64 51,62 M95,72 C90,74 88,80 82,82 M86,70 C80,72 76,78 70,80 C65,82 64,88 59,92 M72,70 C67,71 64,75 60,76 M88,90 C82,92 78,98 72,101 C68,103 66,107 62,110 M75,88 C70,90 67,95 62,97 C58,99 56,103 53,106" stroke="#616161" stroke-width="4.63"/></g>
<polygon points="858.9,264 865.24,271.94 874.7,268.23 876.22,278.28 886.27,279.8 882.56,289.26 890.5,295.6 882.56,301.94 886.27,311.4 876.22,312.92 874.7,322.97 865.24,319.26 858.9,327.2 852.56,319.26 843.1,322.97 841.58,312.92 831.53,311.4 835.24,301.94 827.3,295.6 835.24,289.26 831.53,279.8 841.58,278.28 843.1,268.23 852.56,271.94" fill="#e10600"/><polygon points="858.9,274.59 863.32,279.12 869.41,277.4 870.97,283.53 877.1,285.09 875.38,291.18 879.91,295.6 875.38,300.02 877.1,306.11 870.97,307.67 869.41,313.8 863.32,312.08 858.9,316.61 854.48,312.08 848.39,313.8 846.83,307.67 840.7,306.11 842.42,300.02 837.89,295.6 842.42,291.18 840.7,285.09 846.83,283.53 848.39,277.4 854.48,279.12" fill="#fff"/><g transform="translate(858.9,295.6) scale(0.2290,0.2287) translate(-50,-57.5)" fill="none" stroke="#5e5e5e" stroke-linejoin="round" stroke-linecap="round"><path d="M49,6 C45,1 41,0.3 37,0.8 C29,2 21,8 16,15 C10,24 5,35 2.5,45 C0.5,54 -0.3,60 0.2,66 C0.8,73 2,78 4,82 C7,88 11,93 16,97 C22,103 27,108 33,112 C37,114.5 42,115 45,113 C47.5,111.5 49,108 50,103 M51,6 C55,1 59,0.3 63,0.8 C71,2 79,8 84,15 C90,24 95,35 97.5,45 C99.5,54 100.3,60 99.8,66 C99.2,73 98,78 96,82 C93,88 89,93 84,97 C78,103 73,108 67,112 C63,114.5 58,115 55,113 C52.5,111.5 51,108 50,103" fill="#fafafa" stroke-width="6.34"/><path d="M50,6 L50,103" stroke-width="5.68"/><path d="M42,8 C37,16 43,24 38,32 C34,40 41,48 37,56 M30,6 C24,12 31,19 25,26 C19,33 27,40 21,47 M16,18 C11,26 18,32 11,40 C7,46 12,52 6,58 M9,60 C15,58 18,64 24,63 C29,62 31,58 37,59 M22,45 C26,50 24,55 30,58 M40,62 C45,60 47,64 49,62 M5,72 C10,74 12,80 18,82 M14,70 C20,72 24,78 30,80 C35,82 36,88 41,92 M28,70 C33,71 36,75 40,76 M12,90 C18,92 22,98 28,101 C32,103 34,107 38,110 M25,88 C30,90 33,95 38,97 C42,99 44,103 47,106 M58,8 C63,16 57,24 62,32 C66,40 59,48 63,56 M70,6 C76,12 69,19 75,26 C81,33 73,40 79,47 M84,18 C89,26 82,32 89,40 C93,46 88,52 94,58 M91,60 C85,58 82,64 76,63 C71,62 69,58 63,59 M78,45 C74,50 76,55 70,58 M60,62 C55,60 53,64 51,62 M95,72 C90,74 88,80 82,82 M86,70 C80,72 76,78 70,80 C65,82 64,88 59,92 M72,70 C67,71 64,75 60,76 M88,90 C82,92 78,98 72,101 C68,103 66,107 62,110 M75,88 C70,90 67,95 62,97 C58,99 56,103 53,106" stroke="#616161" stroke-width="4.59"/></g>
<text x="899.4" y="144.6" font-size="21.3" fill="#111" textLength="125.4" lengthAdjust="spacingAndGlyphs">NAT-Infusion</text>
<text x="899.4" y="194.3" font-size="21.3" fill="#111">Relapse</text>
<text x="899.4" y="234.6" font-size="21.3" fill="#111">MRI without</text>
<text x="899.4" y="260.3" font-size="21.3" fill="#111">progression</text>
<text x="899.4" y="296.3" font-size="21.3" fill="#111">MRI with</text>
<text x="899.4" y="321.4" font-size="21.3" fill="#111">progression</text>
</g>
<g font-family='"Liberation Sans", Arial, sans-serif'>
<text x="2.2" y="408.2" font-size="32.5" font-weight="bold" fill="#000">B</text>
<path d="M75.6,417.7 L75.6,678.6 L467.2,678.6" fill="none" stroke="#262626" stroke-width="1.7" stroke-linejoin="miter"/>
<path d="M72,678.5 L75.6,678.5 M72,626.2 L75.6,626.2 M72,574.5 L75.6,574.5 M72,521.8 L75.6,521.8 M72,470.1 L75.6,470.1 M72,417.7 L75.6,417.7 M97.1,678.6 L97.1,682.2 M140.52,678.6 L140.52,682.2 M183.94,678.6 L183.94,682.2 M227.36,678.6 L227.36,682.2 M270.78,678.6 L270.78,682.2 M314.2,678.6 L314.2,682.2 M357.62,678.6 L357.62,682.2 M401.04,678.6 L401.04,682.2 M444.46,678.6 L444.46,682.2" stroke="#262626" stroke-width="1.6" fill="none"/>
<text x="69.6" y="683.6" font-size="11" font-weight="bold" letter-spacing="1.6" text-anchor="end" fill="#111" stroke="#111" stroke-width="0.35">0</text>
<text x="69.6" y="631.3" font-size="11" font-weight="bold" letter-spacing="1.6" text-anchor="end" fill="#111" stroke="#111" stroke-width="0.35">2</text>
<text x="69.6" y="579.6" font-size="11" font-weight="bold" letter-spacing="1.6" text-anchor="end" fill="#111" stroke="#111" stroke-width="0.35">4</text>
<text x="69.6" y="526.9" font-size="11" font-weight="bold" letter-spacing="1.6" text-anchor="end" fill="#111" stroke="#111" stroke-width="0.35">6</text>
<text x="69.6" y="475.2" font-size="11" font-weight="bold" letter-spacing="1.6" text-anchor="end" fill="#111" stroke="#111" stroke-width="0.35">8</text>
<text x="69.6" y="422.8" font-size="11" font-weight="bold" letter-spacing="1.6" text-anchor="end" fill="#111" stroke="#111" stroke-width="0.35">10</text>
<text transform="translate(19.75,548.05) rotate(-90)" font-size="17" font-weight="bold" text-anchor="middle" textLength="103.1" lengthAdjust="spacing" fill="#111" stroke="#111" stroke-width="0.3">Leukocyte</text>
<text transform="translate(44.4,546.95) rotate(-90)" font-size="17" font-weight="bold" text-anchor="middle" textLength="133.7" lengthAdjust="spacing" fill="#111" stroke="#111" stroke-width="0.3">count [GPt/L]</text>
<text transform="translate(99.9,693.5) rotate(-45)" font-size="11" font-weight="bold" letter-spacing="2.1" text-anchor="end" fill="#111" stroke="#111" stroke-width="0.3">Screening</text>
<text transform="translate(143.32,693.5) rotate(-45)" font-size="11" font-weight="bold" letter-spacing="2.1" text-anchor="end" fill="#111" stroke="#111" stroke-width="0.3">1. NAT</text>
<text transform="translate(186.74,693.5) rotate(-45)" font-size="11" font-weight="bold" letter-spacing="2.1" text-anchor="end" fill="#111" stroke="#111" stroke-width="0.3">2. NAT</text>
<text transform="translate(230.16,693.5) rotate(-45)" font-size="11" font-weight="bold" letter-spacing="2.1" text-anchor="end" fill="#111" stroke="#111" stroke-width="0.3">3. NAT</text>
<text transform="translate(273.58,693.5) rotate(-45)" font-size="11" font-weight="bold" letter-spacing="2.1" text-anchor="end" fill="#111" stroke="#111" stroke-width="0.3">6. NAT</text>
<text transform="translate(317,693.5) rotate(-45)" font-size="11" font-weight="bold" letter-spacing="2.1" text-anchor="end" fill="#111" stroke="#111" stroke-width="0.3">9. NAT</text>
<text transform="translate(360.42,693.5) rotate(-45)" font-size="11" font-weight="bold" letter-spacing="2.1" text-anchor="end" fill="#111" stroke="#111" stroke-width="0.3">post-NAT1</text>
<text transform="translate(403.84,693.5) rotate(-45)" font-size="11" font-weight="bold" letter-spacing="2.1" text-anchor="end" fill="#111" stroke="#111" stroke-width="0.3">post-NAT2</text>
<text transform="translate(447.26,693.5) rotate(-45)" font-size="11" font-weight="bold" letter-spacing="2.1" text-anchor="end" fill="#111" stroke="#111" stroke-width="0.3">post-NAT3</text>
<polyline points="97.1,468.3 140.52,475.2 183.94,522.6 227.36,500.8 270.78,505.7 314.2,506.2 357.62,511 401.04,475.5 444.46,451.2" fill="none" stroke="#4a4a4a" stroke-width="1.05" stroke-linejoin="round"/>
<circle cx="97.1" cy="468.3" r="3.2" fill="#000"/>
<circle cx="140.52" cy="475.2" r="3.2" fill="#000"/>
<circle cx="183.94" cy="522.6" r="3.2" fill="#000"/>
<circle cx="227.36" cy="500.8" r="3.2" fill="#000"/>
<circle cx="270.78" cy="505.7" r="3.2" fill="#000"/>
<circle cx="314.2" cy="506.2" r="3.2" fill="#000"/>
<circle cx="357.62" cy="511" r="3.2" fill="#000"/>
<circle cx="401.04" cy="475.5" r="3.2" fill="#000"/>
<circle cx="444.46" cy="451.2" r="3.2" fill="#000"/>
</g>
<g font-family='"Liberation Sans", Arial, sans-serif'>
<text x="520.3" y="408.2" font-size="32.5" font-weight="bold" fill="#000">C</text>
<path d="M587.7,417.7 L587.7,678.6 L979.3,678.6" fill="none" stroke="#262626" stroke-width="1.7" stroke-linejoin="miter"/>
<path d="M584.1,678.5 L587.7,678.5 M584.1,626.5 L587.7,626.5 M584.1,574.4 L587.7,574.4 M584.1,522.3 L587.7,522.3 M584.1,470.2 L587.7,470.2 M584.1,418.2 L587.7,418.2 M609.2,678.6 L609.2,682.2 M652.62,678.6 L652.62,682.2 M696.04,678.6 L696.04,682.2 M739.46,678.6 L739.46,682.2 M782.88,678.6 L782.88,682.2 M826.3,678.6 L826.3,682.2 M869.72,678.6 L869.72,682.2 M913.14,678.6 L913.14,682.2 M956.56,678.6 L956.56,682.2" stroke="#262626" stroke-width="1.6" fill="none"/>
<text x="581.7" y="683.6" font-size="11" font-weight="bold" letter-spacing="1.6" text-anchor="end" fill="#111" stroke="#111" stroke-width="0.35">0.0</text>
<text x="581.7" y="631.6" font-size="11" font-weight="bold" letter-spacing="1.6" text-anchor="end" fill="#111" stroke="#111" stroke-width="0.35">0.5</text>
<text x="581.7" y="579.5" font-size="11" font-weight="bold" letter-spacing="1.6" text-anchor="end" fill="#111" stroke="#111" stroke-width="0.35">1.0</text>
<text x="581.7" y="527.4" font-size="11" font-weight="bold" letter-spacing="1.6" text-anchor="end" fill="#111" stroke="#111" stroke-width="0.35">1.5</text>
<text x="581.7" y="475.3" font-size="11" font-weight="bold" letter-spacing="1.6" text-anchor="end" fill="#111" stroke="#111" stroke-width="0.35">2.0</text>
<text x="581.7" y="423.3" font-size="11" font-weight="bold" letter-spacing="1.6" text-anchor="end" fill="#111" stroke="#111" stroke-width="0.35">2.5</text>
<text transform="translate(528,546.75) rotate(-90)" font-size="17" font-weight="bold" text-anchor="middle" textLength="126.7" lengthAdjust="spacing" fill="#111" stroke="#111" stroke-width="0.3">Lymphocyte</text>
<text transform="translate(553.6,546.95) rotate(-90)" font-size="17" font-weight="bold" text-anchor="middle" textLength="133.7" lengthAdjust="spacing" fill="#111" stroke="#111" stroke-width="0.3">count [GPt/L]</text>
<text transform="translate(612,693.5) rotate(-45)" font-size="11" font-weight="bold" letter-spacing="2.1" text-anchor="end" fill="#111" stroke="#111" stroke-width="0.3">Screening</text>
<text transform="translate(655.42,693.5) rotate(-45)" font-size="11" font-weight="bold" letter-spacing="2.1" text-anchor="end" fill="#111" stroke="#111" stroke-width="0.3">1. NAT</text>
<text transform="translate(698.84,693.5) rotate(-45)" font-size="11" font-weight="bold" letter-spacing="2.1" text-anchor="end" fill="#111" stroke="#111" stroke-width="0.3">2. NAT</text>
<text transform="translate(742.26,693.5) rotate(-45)" font-size="11" font-weight="bold" letter-spacing="2.1" text-anchor="end" fill="#111" stroke="#111" stroke-width="0.3">3. NAT</text>
<text transform="translate(785.68,693.5) rotate(-45)" font-size="11" font-weight="bold" letter-spacing="2.1" text-anchor="end" fill="#111" stroke="#111" stroke-width="0.3">6. NAT</text>
<text transform="translate(829.1,693.5) rotate(-45)" font-size="11" font-weight="bold" letter-spacing="2.1" text-anchor="end" fill="#111" stroke="#111" stroke-width="0.3">9. NAT</text>
<text transform="translate(872.52,693.5) rotate(-45)" font-size="11" font-weight="bold" letter-spacing="2.1" text-anchor="end" fill="#111" stroke="#111" stroke-width="0.3">post-NAT1</text>
<text transform="translate(915.94,693.5) rotate(-45)" font-size="11" font-weight="bold" letter-spacing="2.1" text-anchor="end" fill="#111" stroke="#111" stroke-width="0.3">post-NAT2</text>
<text transform="translate(959.36,693.5) rotate(-45)" font-size="11" font-weight="bold" letter-spacing="2.1" text-anchor="end" fill="#111" stroke="#111" stroke-width="0.3">post-NAT3</text>
<polyline points="609.2,434.8 652.62,441.7 696.04,462.7 739.46,475.2 782.88,459.4 826.3,487.8 869.72,505.4 913.14,443.8 956.56,477.3" fill="none" stroke="#4a4a4a" stroke-width="1.05" stroke-linejoin="round"/>
<circle cx="609.2" cy="434.8" r="3.2" fill="#000"/>
<circle cx="652.62" cy="441.7" r="3.2" fill="#000"/>
<circle cx="696.04" cy="462.7" r="3.2" fill="#000"/>
<circle cx="739.46" cy="475.2" r="3.2" fill="#000"/>
<circle cx="782.88" cy="459.4" r="3.2" fill="#000"/>
<circle cx="826.3" cy="487.8" r="3.2" fill="#000"/>
<circle cx="869.72" cy="505.4" r="3.2" fill="#000"/>
<circle cx="913.14" cy="443.8" r="3.2" fill="#000"/>
<circle cx="956.56" cy="477.3" r="3.2" fill="#000"/>
</g>
<g font-family='"Liberation Sans", Arial, sans-serif'>
<text x="1035.6" y="408.2" font-size="32.5" font-weight="bold" fill="#000">D</text>
<path d="M1100.6,417.7 L1100.6,678.6 L1492.2,678.6" fill="none" stroke="#262626" stroke-width="1.7" stroke-linejoin="miter"/>
<path d="M1097,678.3 L1100.6,678.3 M1097,583.4 L1100.6,583.4 M1097,488.8 L1100.6,488.8 M1122.1,678.6 L1122.1,682.2 M1165.52,678.6 L1165.52,682.2 M1208.94,678.6 L1208.94,682.2 M1252.36,678.6 L1252.36,682.2 M1295.78,678.6 L1295.78,682.2 M1339.2,678.6 L1339.2,682.2 M1382.62,678.6 L1382.62,682.2 M1426.04,678.6 L1426.04,682.2 M1469.46,678.6 L1469.46,682.2" stroke="#262626" stroke-width="1.6" fill="none"/>
<text x="1094.6" y="683.4" font-size="11" font-weight="bold" letter-spacing="1.6" text-anchor="end" fill="#111" stroke="#111" stroke-width="0.35">0.0</text>
<text x="1094.6" y="588.5" font-size="11" font-weight="bold" letter-spacing="1.6" text-anchor="end" fill="#111" stroke="#111" stroke-width="0.35">0.2</text>
<text x="1094.6" y="493.9" font-size="11" font-weight="bold" letter-spacing="1.6" text-anchor="end" fill="#111" stroke="#111" stroke-width="0.35">0.4</text>
<text transform="translate(1040.6,546.85) rotate(-90)" font-size="17" font-weight="bold" text-anchor="middle" textLength="98.9" lengthAdjust="spacing" fill="#111" stroke="#111" stroke-width="0.3">Monocyte</text>
<text transform="translate(1066.1,546.95) rotate(-90)" font-size="17" font-weight="bold" text-anchor="middle" textLength="133.7" lengthAdjust="spacing" fill="#111" stroke="#111" stroke-width="0.3">count [GPt/L]</text>
<text transform="translate(1124.9,693.5) rotate(-45)" font-size="11" font-weight="bold" letter-spacing="2.1" text-anchor="end" fill="#111" stroke="#111" stroke-width="0.3">Screening</text>
<text transform="translate(1168.32,693.5) rotate(-45)" font-size="11" font-weight="bold" letter-spacing="2.1" text-anchor="end" fill="#111" stroke="#111" stroke-width="0.3">1. NAT</text>
<text transform="translate(1211.74,693.5) rotate(-45)" font-size="11" font-weight="bold" letter-spacing="2.1" text-anchor="end" fill="#111" stroke="#111" stroke-width="0.3">2. NAT</text>
<text transform="translate(1255.16,693.5) rotate(-45)" font-size="11" font-weight="bold" letter-spacing="2.1" text-anchor="end" fill="#111" stroke="#111" stroke-width="0.3">3. NAT</text>
<text transform="translate(1298.58,693.5) rotate(-45)" font-size="11" font-weight="bold" letter-spacing="2.1" text-anchor="end" fill="#111" stroke="#111" stroke-width="0.3">6. NAT</text>
<text transform="translate(1342,693.5) rotate(-45)" font-size="11" font-weight="bold" letter-spacing="2.1" text-anchor="end" fill="#111" stroke="#111" stroke-width="0.3">9. NAT</text>
<text transform="translate(1385.42,693.5) rotate(-45)" font-size="11" font-weight="bold" letter-spacing="2.1" text-anchor="end" fill="#111" stroke="#111" stroke-width="0.3">post-NAT1</text>
<text transform="translate(1428.84,693.5) rotate(-45)" font-size="11" font-weight="bold" letter-spacing="2.1" text-anchor="end" fill="#111" stroke="#111" stroke-width="0.3">post-NAT2</text>
<text transform="translate(1472.26,693.5) rotate(-45)" font-size="11" font-weight="bold" letter-spacing="2.1" text-anchor="end" fill="#111" stroke="#111" stroke-width="0.3">post-NAT3</text>
<polyline points="1122.1,493.7 1165.52,474.7 1208.94,493.7 1252.36,470.1 1295.78,465 1339.2,455.8 1382.62,493.7 1426.04,498.5 1469.46,436.6" fill="none" stroke="#4a4a4a" stroke-width="1.05" stroke-linejoin="round"/>
<circle cx="1122.1" cy="493.7" r="3.2" fill="#000"/>
<circle cx="1165.52" cy="474.7" r="3.2" fill="#000"/>
<circle cx="1208.94" cy="493.7" r="3.2" fill="#000"/>
<circle cx="1252.36" cy="470.1" r="3.2" fill="#000"/>
<circle cx="1295.78" cy="465" r="3.2" fill="#000"/>
<circle cx="1339.2" cy="455.8" r="3.2" fill="#000"/>
<circle cx="1382.62" cy="493.7" r="3.2" fill="#000"/>
<circle cx="1426.04" cy="498.5" r="3.2" fill="#000"/>
<circle cx="1469.46" cy="436.6" r="3.2" fill="#000"/>
</g>
<g font-family='"Liberation Sans", Arial, sans-serif'>
<text x="1546.2" y="408.2" font-size="32.5" font-weight="bold" fill="#000">E</text>
<path d="M1612.5,417.7 L1612.5,678.6 L2004.1,678.6" fill="none" stroke="#262626" stroke-width="1.7" stroke-linejoin="miter"/>
<path d="M1608.9,678.5 L1612.5,678.5 M1608.9,626.5 L1612.5,626.5 M1608.9,574.4 L1612.5,574.4 M1608.9,522.3 L1612.5,522.3 M1608.9,470.2 L1612.5,470.2 M1608.9,418.2 L1612.5,418.2 M1634,678.6 L1634,682.2 M1677.42,678.6 L1677.42,682.2 M1720.84,678.6 L1720.84,682.2 M1764.26,678.6 L1764.26,682.2 M1807.68,678.6 L1807.68,682.2 M1851.1,678.6 L1851.1,682.2 M1894.52,678.6 L1894.52,682.2 M1937.94,678.6 L1937.94,682.2 M1981.36,678.6 L1981.36,682.2" stroke="#262626" stroke-width="1.6" fill="none"/>
<text x="1606.5" y="683.6" font-size="11" font-weight="bold" letter-spacing="1.6" text-anchor="end" fill="#111" stroke="#111" stroke-width="0.35">0.0</text>
<text x="1606.5" y="631.6" font-size="11" font-weight="bold" letter-spacing="1.6" text-anchor="end" fill="#111" stroke="#111" stroke-width="0.35">0.5</text>
<text x="1606.5" y="579.5" font-size="11" font-weight="bold" letter-spacing="1.6" text-anchor="end" fill="#111" stroke="#111" stroke-width="0.35">1.0</text>
<text x="1606.5" y="527.4" font-size="11" font-weight="bold" letter-spacing="1.6" text-anchor="end" fill="#111" stroke="#111" stroke-width="0.35">1.5</text>
<text x="1606.5" y="475.3" font-size="11" font-weight="bold" letter-spacing="1.6" text-anchor="end" fill="#111" stroke="#111" stroke-width="0.35">2.0</text>
<text x="1606.5" y="423.3" font-size="11" font-weight="bold" letter-spacing="1.6" text-anchor="end" fill="#111" stroke="#111" stroke-width="0.35">2.5</text>
<text transform="translate(1551.9,545.6) rotate(-90)" font-size="17" font-weight="bold" text-anchor="middle" textLength="114.6" lengthAdjust="spacing" fill="#111" stroke="#111" stroke-width="0.3">CD3+ T cell</text>
<text transform="translate(1578.6,546.95) rotate(-90)" font-size="17" font-weight="bold" text-anchor="middle" textLength="133.7" lengthAdjust="spacing" fill="#111" stroke="#111" stroke-width="0.3">count [GPt/L]</text>
<text transform="translate(1636.8,693.5) rotate(-45)" font-size="11" font-weight="bold" letter-spacing="2.1" text-anchor="end" fill="#111" stroke="#111" stroke-width="0.3">Screening</text>
<text transform="translate(1680.22,693.5) rotate(-45)" font-size="11" font-weight="bold" letter-spacing="2.1" text-anchor="end" fill="#111" stroke="#111" stroke-width="0.3">1. NAT</text>
<text transform="translate(1723.64,693.5) rotate(-45)" font-size="11" font-weight="bold" letter-spacing="2.1" text-anchor="end" fill="#111" stroke="#111" stroke-width="0.3">2. NAT</text>
<text transform="translate(1767.06,693.5) rotate(-45)" font-size="11" font-weight="bold" letter-spacing="2.1" text-anchor="end" fill="#111" stroke="#111" stroke-width="0.3">3. NAT</text>
<text transform="translate(1810.48,693.5) rotate(-45)" font-size="11" font-weight="bold" letter-spacing="2.1" text-anchor="end" fill="#111" stroke="#111" stroke-width="0.3">6. NAT</text>
<text transform="translate(1853.9,693.5) rotate(-45)" font-size="11" font-weight="bold" letter-spacing="2.1" text-anchor="end" fill="#111" stroke="#111" stroke-width="0.3">9. NAT</text>
<text transform="translate(1897.32,693.5) rotate(-45)" font-size="11" font-weight="bold" letter-spacing="2.1" text-anchor="end" fill="#111" stroke="#111" stroke-width="0.3">post-NAT1</text>
<text transform="translate(1940.74,693.5) rotate(-45)" font-size="11" font-weight="bold" letter-spacing="2.1" text-anchor="end" fill="#111" stroke="#111" stroke-width="0.3">post-NAT2</text>
<text transform="translate(1984.16,693.5) rotate(-45)" font-size="11" font-weight="bold" letter-spacing="2.1" text-anchor="end" fill="#111" stroke="#111" stroke-width="0.3">post-NAT3</text>
<polyline points="1634,474.7 1677.42,496.2 1720.84,508.5 1764.26,515.7 1807.68,511.6 1851.1,564.3 1894.52,555 1937.94,494.9 1981.36,520.3" fill="none" stroke="#4a4a4a" stroke-width="1.05" stroke-linejoin="round"/>
<circle cx="1634" cy="474.7" r="3.2" fill="#000"/>
<circle cx="1677.42" cy="496.2" r="3.2" fill="#000"/>
<circle cx="1720.84" cy="508.5" r="3.2" fill="#000"/>
<circle cx="1764.26" cy="515.7" r="3.2" fill="#000"/>
<circle cx="1807.68" cy="511.6" r="3.2" fill="#000"/>
<circle cx="1851.1" cy="564.3" r="3.2" fill="#000"/>
<circle cx="1894.52" cy="555" r="3.2" fill="#000"/>
<circle cx="1937.94" cy="494.9" r="3.2" fill="#000"/>
<circle cx="1981.36" cy="520.3" r="3.2" fill="#000"/>
</g>
<g font-family='"Liberation Sans", Arial, sans-serif'>
<text x="1.4" y="776.2" font-size="32.5" font-weight="bold" fill="#000">G</text>
<path d="M75.6,761.2 L75.6,1022.1 L467.2,1022.1" fill="none" stroke="#262626" stroke-width="1.7" stroke-linejoin="miter"/>
<path d="M72,1021.7 L75.6,1021.7 M72,940.3 L75.6,940.3 M72,859.9 L75.6,859.9 M72,777.6 L75.6,777.6 M97.1,1022.1 L97.1,1025.7 M140.52,1022.1 L140.52,1025.7 M183.94,1022.1 L183.94,1025.7 M227.36,1022.1 L227.36,1025.7 M270.78,1022.1 L270.78,1025.7 M314.2,1022.1 L314.2,1025.7 M357.62,1022.1 L357.62,1025.7 M401.04,1022.1 L401.04,1025.7 M444.46,1022.1 L444.46,1025.7" stroke="#262626" stroke-width="1.6" fill="none"/>
<text x="69.6" y="1026.8" font-size="11" font-weight="bold" letter-spacing="1.6" text-anchor="end" fill="#111" stroke="#111" stroke-width="0.35">0.0</text>
<text x="69.6" y="945.4" font-size="11" font-weight="bold" letter-spacing="1.6" text-anchor="end" fill="#111" stroke="#111" stroke-width="0.35">0.5</text>
<text x="69.6" y="865" font-size="11" font-weight="bold" letter-spacing="1.6" text-anchor="end" fill="#111" stroke="#111" stroke-width="0.35">1.0</text>
<text x="69.6" y="782.7" font-size="11" font-weight="bold" letter-spacing="1.6" text-anchor="end" fill="#111" stroke="#111" stroke-width="0.35">1.5</text>
<text transform="translate(15.6,889.3) rotate(-90)" font-size="17" font-weight="bold" text-anchor="middle" textLength="115.4" lengthAdjust="spacing" fill="#111" stroke="#111" stroke-width="0.3">CD4+ T cell</text>
<text transform="translate(41.2,890.15) rotate(-90)" font-size="17" font-weight="bold" text-anchor="middle" textLength="133.5" lengthAdjust="spacing" fill="#111" stroke="#111" stroke-width="0.3">count [GPt/L]</text>
<text transform="translate(99.9,1037) rotate(-45)" font-size="11" font-weight="bold" letter-spacing="2.1" text-anchor="end" fill="#111" stroke="#111" stroke-width="0.3">Screening</text>
<text transform="translate(143.32,1037) rotate(-45)" font-size="11" font-weight="bold" letter-spacing="2.1" text-anchor="end" fill="#111" stroke="#111" stroke-width="0.3">1. NAT</text>
<text transform="translate(186.74,1037) rotate(-45)" font-size="11" font-weight="bold" letter-spacing="2.1" text-anchor="end" fill="#111" stroke="#111" stroke-width="0.3">2. NAT</text>
<text transform="translate(230.16,1037) rotate(-45)" font-size="11" font-weight="bold" letter-spacing="2.1" text-anchor="end" fill="#111" stroke="#111" stroke-width="0.3">3. NAT</text>
<text transform="translate(273.58,1037) rotate(-45)" font-size="11" font-weight="bold" letter-spacing="2.1" text-anchor="end" fill="#111" stroke="#111" stroke-width="0.3">6. NAT</text>
<text transform="translate(317,1037) rotate(-45)" font-size="11" font-weight="bold" letter-spacing="2.1" text-anchor="end" fill="#111" stroke="#111" stroke-width="0.3">9. NAT</text>
<text transform="translate(360.42,1037) rotate(-45)" font-size="11" font-weight="bold" letter-spacing="2.1" text-anchor="end" fill="#111" stroke="#111" stroke-width="0.3">post-NAT1</text>
<text transform="translate(403.84,1037) rotate(-45)" font-size="11" font-weight="bold" letter-spacing="2.1" text-anchor="end" fill="#111" stroke="#111" stroke-width="0.3">post-NAT2</text>
<text transform="translate(447.26,1037) rotate(-45)" font-size="11" font-weight="bold" letter-spacing="2.1" text-anchor="end" fill="#111" stroke="#111" stroke-width="0.3">post-NAT3</text>
<polyline points="97.1,773.7 140.52,805.4 183.94,816.2 227.36,825.9 270.78,819 314.2,878.6 357.62,876 401.04,801.6 444.46,826.7" fill="none" stroke="#4a4a4a" stroke-width="1.05" stroke-linejoin="round"/>
<circle cx="97.1" cy="773.7" r="3.2" fill="#000"/>
<circle cx="140.52" cy="805.4" r="3.2" fill="#000"/>
<circle cx="183.94" cy="816.2" r="3.2" fill="#000"/>
<circle cx="227.36" cy="825.9" r="3.2" fill="#000"/>
<circle cx="270.78" cy="819" r="3.2" fill="#000"/>
<circle cx="314.2" cy="878.6" r="3.2" fill="#000"/>
<circle cx="357.62" cy="876" r="3.2" fill="#000"/>
<circle cx="401.04" cy="801.6" r="3.2" fill="#000"/>
<circle cx="444.46" cy="826.7" r="3.2" fill="#000"/>
</g>
<g font-family='"Liberation Sans", Arial, sans-serif'>
<text x="520.7" y="776.2" font-size="32.5" font-weight="bold" fill="#000">H</text>
<path d="M587.7,761.2 L587.7,1022.1 L979.3,1022.1" fill="none" stroke="#262626" stroke-width="1.7" stroke-linejoin="miter"/>
<path d="M584.1,1021.7 L587.7,1021.7 M584.1,969.9 L587.7,969.9 M584.1,918 L587.7,918 M584.1,865.6 L587.7,865.6 M584.1,813.4 L587.7,813.4 M584.1,761.2 L587.7,761.2 M609.2,1022.1 L609.2,1025.7 M652.62,1022.1 L652.62,1025.7 M696.04,1022.1 L696.04,1025.7 M739.46,1022.1 L739.46,1025.7 M782.88,1022.1 L782.88,1025.7 M826.3,1022.1 L826.3,1025.7 M869.72,1022.1 L869.72,1025.7 M913.14,1022.1 L913.14,1025.7 M956.56,1022.1 L956.56,1025.7" stroke="#262626" stroke-width="1.6" fill="none"/>
<text x="581.7" y="1026.8" font-size="11" font-weight="bold" letter-spacing="1.6" text-anchor="end" fill="#111" stroke="#111" stroke-width="0.35">0.0</text>
<text x="581.7" y="975" font-size="11" font-weight="bold" letter-spacing="1.6" text-anchor="end" fill="#111" stroke="#111" stroke-width="0.35">0.1</text>
<text x="581.7" y="923.1" font-size="11" font-weight="bold" letter-spacing="1.6" text-anchor="end" fill="#111" stroke="#111" stroke-width="0.35">0.2</text>
<text x="581.7" y="870.7" font-size="11" font-weight="bold" letter-spacing="1.6" text-anchor="end" fill="#111" stroke="#111" stroke-width="0.35">0.3</text>
<text x="581.7" y="818.5" font-size="11" font-weight="bold" letter-spacing="1.6" text-anchor="end" fill="#111" stroke="#111" stroke-width="0.35">0.4</text>
<text x="581.7" y="766.3" font-size="11" font-weight="bold" letter-spacing="1.6" text-anchor="end" fill="#111" stroke="#111" stroke-width="0.35">0.5</text>
<text transform="translate(527.2,889.3) rotate(-90)" font-size="17" font-weight="bold" text-anchor="middle" textLength="115.4" lengthAdjust="spacing" fill="#111" stroke="#111" stroke-width="0.3">CD8+ T cell</text>
<text transform="translate(553.6,890.15) rotate(-90)" font-size="17" font-weight="bold" text-anchor="middle" textLength="133.5" lengthAdjust="spacing" fill="#111" stroke="#111" stroke-width="0.3">count [GPt/L]</text>
<text transform="translate(612,1037) rotate(-45)" font-size="11" font-weight="bold" letter-spacing="2.1" text-anchor="end" fill="#111" stroke="#111" stroke-width="0.3">Screening</text>
<text transform="translate(655.42,1037) rotate(-45)" font-size="11" font-weight="bold" letter-spacing="2.1" text-anchor="end" fill="#111" stroke="#111" stroke-width="0.3">1. NAT</text>
<text transform="translate(698.84,1037) rotate(-45)" font-size="11" font-weight="bold" letter-spacing="2.1" text-anchor="end" fill="#111" stroke="#111" stroke-width="0.3">2. NAT</text>
<text transform="translate(742.26,1037) rotate(-45)" font-size="11" font-weight="bold" letter-spacing="2.1" text-anchor="end" fill="#111" stroke="#111" stroke-width="0.3">3. NAT</text>
<text transform="translate(785.68,1037) rotate(-45)" font-size="11" font-weight="bold" letter-spacing="2.1" text-anchor="end" fill="#111" stroke="#111" stroke-width="0.3">6. NAT</text>
<text transform="translate(829.1,1037) rotate(-45)" font-size="11" font-weight="bold" letter-spacing="2.1" text-anchor="end" fill="#111" stroke="#111" stroke-width="0.3">9. NAT</text>
<text transform="translate(872.52,1037) rotate(-45)" font-size="11" font-weight="bold" letter-spacing="2.1" text-anchor="end" fill="#111" stroke="#111" stroke-width="0.3">post-NAT1</text>
<text transform="translate(915.94,1037) rotate(-45)" font-size="11" font-weight="bold" letter-spacing="2.1" text-anchor="end" fill="#111" stroke="#111" stroke-width="0.3">post-NAT2</text>
<text transform="translate(959.36,1037) rotate(-45)" font-size="11" font-weight="bold" letter-spacing="2.1" text-anchor="end" fill="#111" stroke="#111" stroke-width="0.3">post-NAT3</text>
<polyline points="609.2,790.1 652.62,798.5 696.04,830 739.46,837.9 782.88,828 826.3,910.6 869.72,873.7 913.14,800.3 956.56,846.9" fill="none" stroke="#4a4a4a" stroke-width="1.05" stroke-linejoin="round"/>
<circle cx="609.2" cy="790.1" r="3.2" fill="#000"/>
<circle cx="652.62" cy="798.5" r="3.2" fill="#000"/>
<circle cx="696.04" cy="830" r="3.2" fill="#000"/>
<circle cx="739.46" cy="837.9" r="3.2" fill="#000"/>
<circle cx="782.88" cy="828" r="3.2" fill="#000"/>
<circle cx="826.3" cy="910.6" r="3.2" fill="#000"/>
<circle cx="869.72" cy="873.7" r="3.2" fill="#000"/>
<circle cx="913.14" cy="800.3" r="3.2" fill="#000"/>
<circle cx="956.56" cy="846.9" r="3.2" fill="#000"/>
</g>
<g font-family='"Liberation Sans", Arial, sans-serif'>
<text x="1043.1" y="776.2" font-size="32.5" font-weight="bold" fill="#000">I</text>
<path d="M1100.6,761.2 L1100.6,1022.1 L1492.2,1022.1" fill="none" stroke="#262626" stroke-width="1.7" stroke-linejoin="miter"/>
<path d="M1097,1021.7 L1100.6,1021.7 M1097,935.1 L1100.6,935.1 M1097,848.2 L1100.6,848.2 M1097,761.2 L1100.6,761.2 M1122.1,1022.1 L1122.1,1025.7 M1165.52,1022.1 L1165.52,1025.7 M1208.94,1022.1 L1208.94,1025.7 M1252.36,1022.1 L1252.36,1025.7 M1295.78,1022.1 L1295.78,1025.7 M1339.2,1022.1 L1339.2,1025.7 M1382.62,1022.1 L1382.62,1025.7 M1426.04,1022.1 L1426.04,1025.7 M1469.46,1022.1 L1469.46,1025.7" stroke="#262626" stroke-width="1.6" fill="none"/>
<text x="1094.6" y="1026.8" font-size="11" font-weight="bold" letter-spacing="1.6" text-anchor="end" fill="#111" stroke="#111" stroke-width="0.35">0.0</text>
<text x="1094.6" y="940.2" font-size="11" font-weight="bold" letter-spacing="1.6" text-anchor="end" fill="#111" stroke="#111" stroke-width="0.35">0.1</text>
<text x="1094.6" y="853.3" font-size="11" font-weight="bold" letter-spacing="1.6" text-anchor="end" fill="#111" stroke="#111" stroke-width="0.35">0.2</text>
<text x="1094.6" y="766.3" font-size="11" font-weight="bold" letter-spacing="1.6" text-anchor="end" fill="#111" stroke="#111" stroke-width="0.35">0.3</text>
<text transform="translate(1040.6,889.7) rotate(-90)" font-size="17" font-weight="bold" text-anchor="middle" textLength="127.8" lengthAdjust="spacing" fill="#111" stroke="#111" stroke-width="0.3">CD19+ B cell</text>
<text transform="translate(1065.8,890.15) rotate(-90)" font-size="17" font-weight="bold" text-anchor="middle" textLength="133.5" lengthAdjust="spacing" fill="#111" stroke="#111" stroke-width="0.3">count [GPt/L]</text>
<text transform="translate(1124.9,1037) rotate(-45)" font-size="11" font-weight="bold" letter-spacing="2.1" text-anchor="end" fill="#111" stroke="#111" stroke-width="0.3">Screening</text>
<text transform="translate(1168.32,1037) rotate(-45)" font-size="11" font-weight="bold" letter-spacing="2.1" text-anchor="end" fill="#111" stroke="#111" stroke-width="0.3">1. NAT</text>
<text transform="translate(1211.74,1037) rotate(-45)" font-size="11" font-weight="bold" letter-spacing="2.1" text-anchor="end" fill="#111" stroke="#111" stroke-width="0.3">2. NAT</text>
<text transform="translate(1255.16,1037) rotate(-45)" font-size="11" font-weight="bold" letter-spacing="2.1" text-anchor="end" fill="#111" stroke="#111" stroke-width="0.3">3. NAT</text>
<text transform="translate(1298.58,1037) rotate(-45)" font-size="11" font-weight="bold" letter-spacing="2.1" text-anchor="end" fill="#111" stroke="#111" stroke-width="0.3">6. NAT</text>
<text transform="translate(1342,1037) rotate(-45)" font-size="11" font-weight="bold" letter-spacing="2.1" text-anchor="end" fill="#111" stroke="#111" stroke-width="0.3">9. NAT</text>
<text transform="translate(1385.42,1037) rotate(-45)" font-size="11" font-weight="bold" letter-spacing="2.1" text-anchor="end" fill="#111" stroke="#111" stroke-width="0.3">post-NAT1</text>
<text transform="translate(1428.84,1037) rotate(-45)" font-size="11" font-weight="bold" letter-spacing="2.1" text-anchor="end" fill="#111" stroke="#111" stroke-width="0.3">post-NAT2</text>
<text transform="translate(1472.26,1037) rotate(-45)" font-size="11" font-weight="bold" letter-spacing="2.1" text-anchor="end" fill="#111" stroke="#111" stroke-width="0.3">post-NAT3</text>
<polyline points="1122.1,786.5 1165.52,783.2 1208.94,838.7 1252.36,825.7 1295.78,809.8 1339.2,824.6 1382.62,798.8 1426.04,804.7 1469.46,817.7" fill="none" stroke="#4a4a4a" stroke-width="1.05" stroke-linejoin="round"/>
<circle cx="1122.1" cy="786.5" r="3.2" fill="#000"/>
<circle cx="1165.52" cy="783.2" r="3.2" fill="#000"/>
<circle cx="1208.94" cy="838.7" r="3.2" fill="#000"/>
<circle cx="1252.36" cy="825.7" r="3.2" fill="#000"/>
<circle cx="1295.78" cy="809.8" r="3.2" fill="#000"/>
<circle cx="1339.2" cy="824.6" r="3.2" fill="#000"/>
<circle cx="1382.62" cy="798.8" r="3.2" fill="#000"/>
<circle cx="1426.04" cy="804.7" r="3.2" fill="#000"/>
<circle cx="1469.46" cy="817.7" r="3.2" fill="#000"/>
</g>
<g font-family='"Liberation Sans", Arial, sans-serif'>
<text x="1542.9" y="776.2" font-size="32.5" font-weight="bold" fill="#000">F</text>
<path d="M1612.5,761.2 L1612.5,1022.1 L2004.1,1022.1" fill="none" stroke="#262626" stroke-width="1.7" stroke-linejoin="miter"/>
<path d="M1608.9,1021.7 L1612.5,1021.7 M1608.9,969.9 L1612.5,969.9 M1608.9,918 L1612.5,918 M1608.9,865.6 L1612.5,865.6 M1608.9,813.4 L1612.5,813.4 M1608.9,761.2 L1612.5,761.2 M1634,1022.1 L1634,1025.7 M1677.42,1022.1 L1677.42,1025.7 M1720.84,1022.1 L1720.84,1025.7 M1764.26,1022.1 L1764.26,1025.7 M1807.68,1022.1 L1807.68,1025.7 M1851.1,1022.1 L1851.1,1025.7 M1894.52,1022.1 L1894.52,1025.7 M1937.94,1022.1 L1937.94,1025.7 M1981.36,1022.1 L1981.36,1025.7" stroke="#262626" stroke-width="1.6" fill="none"/>
<text x="1606.5" y="1026.8" font-size="11" font-weight="bold" letter-spacing="1.6" text-anchor="end" fill="#111" stroke="#111" stroke-width="0.35">0.00</text>
<text x="1606.5" y="975" font-size="11" font-weight="bold" letter-spacing="1.6" text-anchor="end" fill="#111" stroke="#111" stroke-width="0.35">0.05</text>
<text x="1606.5" y="923.1" font-size="11" font-weight="bold" letter-spacing="1.6" text-anchor="end" fill="#111" stroke="#111" stroke-width="0.35">0.10</text>
<text x="1606.5" y="870.7" font-size="11" font-weight="bold" letter-spacing="1.6" text-anchor="end" fill="#111" stroke="#111" stroke-width="0.35">0.15</text>
<text x="1606.5" y="818.5" font-size="11" font-weight="bold" letter-spacing="1.6" text-anchor="end" fill="#111" stroke="#111" stroke-width="0.35">0.20</text>
<text x="1606.5" y="766.3" font-size="11" font-weight="bold" letter-spacing="1.6" text-anchor="end" fill="#111" stroke="#111" stroke-width="0.35">0.25</text>
<text transform="translate(1544.5,889.3) rotate(-90)" font-size="17" font-weight="bold" text-anchor="middle" textLength="69.4" lengthAdjust="spacing" fill="#111" stroke="#111" stroke-width="0.3">NK cell</text>
<text transform="translate(1571.2,890.15) rotate(-90)" font-size="17" font-weight="bold" text-anchor="middle" textLength="133.5" lengthAdjust="spacing" fill="#111" stroke="#111" stroke-width="0.3">count [GPt/L]</text>
<text transform="translate(1636.8,1037) rotate(-45)" font-size="11" font-weight="bold" letter-spacing="2.1" text-anchor="end" fill="#111" stroke="#111" stroke-width="0.3">Screening</text>
<text transform="translate(1680.22,1037) rotate(-45)" font-size="11" font-weight="bold" letter-spacing="2.1" text-anchor="end" fill="#111" stroke="#111" stroke-width="0.3">1. NAT</text>
<text transform="translate(1723.64,1037) rotate(-45)" font-size="11" font-weight="bold" letter-spacing="2.1" text-anchor="end" fill="#111" stroke="#111" stroke-width="0.3">2. NAT</text>
<text transform="translate(1767.06,1037) rotate(-45)" font-size="11" font-weight="bold" letter-spacing="2.1" text-anchor="end" fill="#111" stroke="#111" stroke-width="0.3">3. NAT</text>
<text transform="translate(1810.48,1037) rotate(-45)" font-size="11" font-weight="bold" letter-spacing="2.1" text-anchor="end" fill="#111" stroke="#111" stroke-width="0.3">6. NAT</text>
<text transform="translate(1853.9,1037) rotate(-45)" font-size="11" font-weight="bold" letter-spacing="2.1" text-anchor="end" fill="#111" stroke="#111" stroke-width="0.3">9. NAT</text>
<text transform="translate(1897.32,1037) rotate(-45)" font-size="11" font-weight="bold" letter-spacing="2.1" text-anchor="end" fill="#111" stroke="#111" stroke-width="0.3">post-NAT1</text>
<text transform="translate(1940.74,1037) rotate(-45)" font-size="11" font-weight="bold" letter-spacing="2.1" text-anchor="end" fill="#111" stroke="#111" stroke-width="0.3">post-NAT2</text>
<text transform="translate(1984.16,1037) rotate(-45)" font-size="11" font-weight="bold" letter-spacing="2.1" text-anchor="end" fill="#111" stroke="#111" stroke-width="0.3">post-NAT3</text>
<polyline points="1634,916.7 1677.42,774 1720.84,798 1764.26,863.5 1807.68,777 1851.1,913.7 1894.52,804.2 1937.94,778.1 1981.36,842.5" fill="none" stroke="#4a4a4a" stroke-width="1.05" stroke-linejoin="round"/>
<circle cx="1634" cy="916.7" r="3.2" fill="#000"/>
<circle cx="1677.42" cy="774" r="3.2" fill="#000"/>
<circle cx="1720.84" cy="798" r="3.2" fill="#000"/>
<circle cx="1764.26" cy="863.5" r="3.2" fill="#000"/>
<circle cx="1807.68" cy="777" r="3.2" fill="#000"/>
<circle cx="1851.1" cy="913.7" r="3.2" fill="#000"/>
<circle cx="1894.52" cy="804.2" r="3.2" fill="#000"/>
<circle cx="1937.94" cy="778.1" r="3.2" fill="#000"/>
<circle cx="1981.36" cy="842.5" r="3.2" fill="#000"/>
</g>
</svg></body></html>
